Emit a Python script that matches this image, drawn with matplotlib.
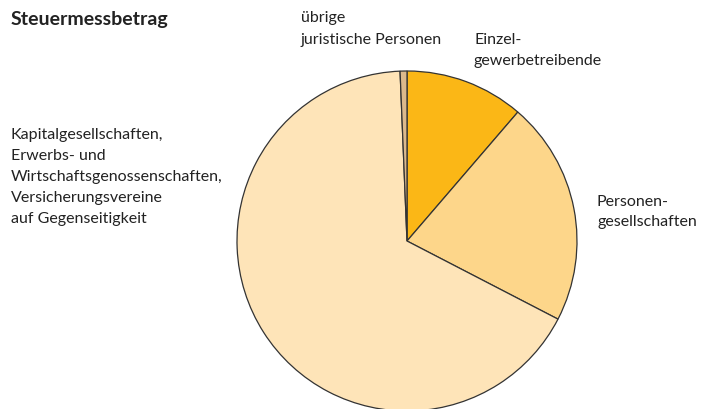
import matplotlib.pyplot as plt

plt.rcParams['font.family'] = ['Lato', 'DejaVu Sans']

# Anteile am Steuermessbetrag (%), im Uhrzeigersinn ab 12 Uhr
labels = ['Einzelgewerbetreibende', 'Personengesellschaften',
          'Kapitalgesellschaften', 'übrige juristische Personen']
shares = [11.3, 21.3, 66.75, 0.65]
colors = ['#fbb716', '#fdd68a', '#fee4b8', '#dcb98c']

W, H = 706, 409
fig = plt.figure(figsize=(W / 100, H / 100), dpi=100)

# Kreis: Mitte (407, 241), Radius 170 Pixel
cx, cy, r = 407, 241, 170
ax = fig.add_axes([(cx - r) / W, (H - cy - r) / H, 2 * r / W, 2 * r / H])
ax.pie(shares, colors=colors, startangle=90, counterclock=False,
       wedgeprops=dict(edgecolor='#333333', linewidth=0.9))
ax.set_aspect('equal')
ax.set_xlim(-1, 1)
ax.set_ylim(-1, 1)


def txt(x, y, s, size=11.5, **kw):
    fig.text(x / W, 1 - y / H, s, va='center', ha='left', fontsize=size,
             color='#222222', **kw)


txt(11, 20, 'Steuermessbetrag', size=14, fontweight='bold')

txt(301, 18, 'übrige')
txt(301, 40, 'juristische Personen')
txt(474, 40, 'Einzel-')
txt(474, 61, 'gewerbetreibende')
txt(597, 202, 'Personen-')
txt(597, 222, 'gesellschaften')

left_lines = ['Kapitalgesellschaften,', 'Erwerbs- und',
              'Wirtschaftsgenossenschaften,', 'Versicherungsvereine',
              'auf Gegenseitigkeit']
for i, line in enumerate(left_lines):
    txt(11, 135 + i * 21, line)

fig.savefig('out.png', dpi=100)
